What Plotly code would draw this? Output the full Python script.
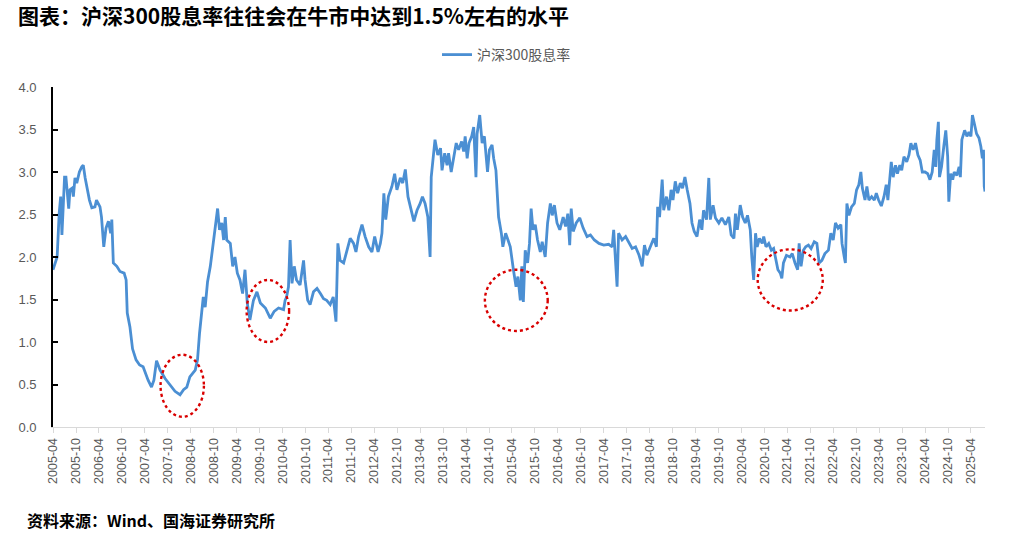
import plotly.graph_objects as go

# ---------------- data ----------------
series_name = "沪深300股息率"

dates = [
    "2005-04-01", "2005-05-04", "2005-05-20", "2005-06-01", "2005-06-11", "2005-06-22",
    "2005-07-02", "2005-07-13", "2005-07-23", "2005-08-04", "2005-08-14", "2005-09-01",
    "2005-09-10", "2005-09-23", "2005-10-07", "2005-10-28", "2005-11-16", "2005-11-28",
    "2005-12-13", "2006-01-01", "2006-01-16", "2006-02-04", "2006-03-01", "2006-03-13",
    "2006-04-10", "2006-04-22", "2006-05-10", "2006-05-28", "2006-06-16", "2006-07-04",
    "2006-07-13", "2006-07-25", "2006-08-22", "2006-09-16", "2006-10-19", "2006-11-04",
    "2006-11-13", "2006-12-04", "2006-12-25", "2007-01-22", "2007-02-19", "2007-03-19",
    "2007-04-28", "2007-05-25", "2007-06-13", "2007-07-04", "2007-08-01", "2007-09-10",
    "2007-10-19", "2007-11-28", "2008-01-07", "2008-02-04", "2008-03-01", "2008-03-25",
    "2008-05-07", "2008-05-25", "2008-06-10", "2008-06-28", "2008-07-10", "2008-07-25",
    "2008-08-13", "2008-09-04", "2008-09-22", "2008-10-13", "2008-11-01", "2008-11-16",
    "2008-12-04", "2008-12-19", "2009-01-01", "2009-01-13", "2009-02-10", "2009-03-01",
    "2009-03-19", "2009-04-07", "2009-04-28", "2009-05-19", "2009-06-07", "2009-06-25",
    "2009-07-16", "2009-08-13", "2009-09-10", "2009-10-07", "2009-11-16", "2009-12-25",
    "2010-01-25", "2010-03-01", "2010-04-10", "2010-04-22", "2010-05-04", "2010-05-19",
    "2010-06-01", "2010-06-16", "2010-07-04", "2010-07-22", "2010-08-19", "2010-09-16",
    "2010-09-28", "2010-10-19", "2010-11-07", "2010-12-04", "2011-01-01", "2011-01-28",
    "2011-02-22", "2011-03-19", "2011-04-16", "2011-05-10", "2011-06-01", "2011-06-16",
    "2011-07-04", "2011-08-01", "2011-08-25", "2011-09-22", "2011-10-19", "2011-11-07",
    "2011-11-28", "2011-12-25", "2012-01-19", "2012-02-16", "2012-03-13", "2012-04-04",
    "2012-05-01", "2012-05-19", "2012-06-01", "2012-06-16", "2012-07-01", "2012-07-22",
    "2012-08-19", "2012-09-10", "2012-09-28", "2012-10-25", "2012-11-13", "2012-12-04",
    "2012-12-25", "2013-01-13", "2013-02-10", "2013-03-07", "2013-04-01", "2013-04-19",
    "2013-05-10", "2013-06-01", "2013-06-19", "2013-06-28", "2013-07-16", "2013-07-28",
    "2013-08-19", "2013-09-10", "2013-09-22", "2013-10-13", "2013-11-01", "2013-11-13",
    "2013-12-04", "2013-12-22", "2014-01-13", "2014-02-01", "2014-02-25", "2014-03-13",
    "2014-03-25", "2014-04-10", "2014-04-25", "2014-05-16", "2014-06-01", "2014-06-19",
    "2014-06-28", "2014-07-19", "2014-08-07", "2014-08-25", "2014-09-19", "2014-10-04",
    "2014-10-25", "2014-11-07", "2014-11-25", "2014-12-16", "2015-01-07", "2015-01-19",
    "2015-02-10", "2015-03-01", "2015-03-19", "2015-04-13", "2015-05-04", "2015-05-19",
    "2015-06-07", "2015-06-19", "2015-07-01", "2015-07-16", "2015-08-04", "2015-08-19",
    "2015-09-01", "2015-09-16", "2015-10-04", "2015-10-22", "2015-11-13", "2015-11-28",
    "2015-12-22", "2016-01-10", "2016-02-01", "2016-02-16", "2016-03-04", "2016-03-25",
    "2016-04-16", "2016-05-13", "2016-06-01", "2016-06-19", "2016-07-04", "2016-07-16",
    "2016-08-01", "2016-08-25", "2016-09-22", "2016-10-19", "2016-11-19", "2016-12-16",
    "2017-01-16", "2017-02-22", "2017-04-01", "2017-05-10", "2017-06-07", "2017-06-19",
    "2017-07-04", "2017-07-16", "2017-07-28", "2017-08-25", "2017-09-22", "2017-10-19",
    "2017-11-13", "2017-12-10", "2018-01-07", "2018-02-01", "2018-02-19", "2018-03-10",
    "2018-04-07", "2018-05-04", "2018-05-25", "2018-06-04", "2018-06-19", "2018-07-10",
    "2018-07-22", "2018-08-13", "2018-09-01", "2018-09-19", "2018-10-04", "2018-10-22",
    "2018-11-10", "2018-12-01", "2018-12-19", "2019-01-07", "2019-01-25", "2019-02-16",
    "2019-03-04", "2019-03-22", "2019-04-13", "2019-05-04", "2019-05-22", "2019-06-04",
    "2019-06-28", "2019-07-16", "2019-07-28", "2019-08-19", "2019-09-07", "2019-10-04",
    "2019-10-28", "2019-11-25", "2019-12-22", "2020-01-10", "2020-02-01", "2020-02-13",
    "2020-02-28", "2020-03-22", "2020-04-10", "2020-05-01", "2020-05-19", "2020-06-10",
    "2020-06-22", "2020-07-07", "2020-07-22", "2020-08-04", "2020-08-22", "2020-09-13",
    "2020-09-25", "2020-10-13", "2020-11-04", "2020-11-25", "2020-12-13", "2021-01-01",
    "2021-01-16", "2021-02-04", "2021-02-16", "2021-03-01", "2021-03-25", "2021-04-22",
    "2021-05-10", "2021-06-01", "2021-06-22", "2021-07-04", "2021-07-19", "2021-08-07",
    "2021-08-25", "2021-09-16", "2021-10-07", "2021-11-01", "2021-11-22", "2021-12-10",
    "2022-01-01", "2022-01-25", "2022-02-22", "2022-03-13", "2022-04-01", "2022-04-19",
    "2022-05-10", "2022-06-01", "2022-06-10", "2022-06-28", "2022-07-07", "2022-07-19",
    "2022-08-04", "2022-08-25", "2022-09-16", "2022-10-04", "2022-10-22", "2022-11-07",
    "2022-11-19", "2022-12-10", "2022-12-25", "2023-01-10", "2023-02-01", "2023-02-22",
    "2023-03-10", "2023-03-28", "2023-04-19", "2023-05-10", "2023-05-28", "2023-06-10",
    "2023-06-25", "2023-07-07", "2023-07-22", "2023-08-10", "2023-08-25", "2023-09-13",
    "2023-09-28", "2023-10-16", "2023-11-07", "2023-11-25", "2023-12-10", "2023-12-28",
    "2024-01-16", "2024-02-04", "2024-02-22", "2024-03-10", "2024-04-01", "2024-04-22",
    "2024-05-10", "2024-05-28", "2024-06-13", "2024-06-25", "2024-07-04", "2024-07-16",
    "2024-07-25", "2024-08-10", "2024-08-28", "2024-09-13", "2024-09-28", "2024-10-07",
    "2024-10-22", "2024-11-07", "2024-11-19", "2024-12-10", "2024-12-28", "2025-01-07",
    "2025-01-19", "2025-02-10", "2025-02-28", "2025-03-16", "2025-04-01", "2025-04-13",
    "2025-04-28", "2025-05-16", "2025-06-04", "2025-06-19", "2025-07-01", "2025-07-10",
    "2025-07-16", "2025-07-22",
]

dividend_yield = [
    1.85, 2.00, 2.51, 2.71, 2.26, 2.67,
    2.94, 2.94, 2.71, 2.57, 2.79, 2.81,
    2.71, 2.93, 2.87, 3.00, 3.06, 3.08,
    2.93, 2.79, 2.67, 2.58, 2.59, 2.67,
    2.59, 2.47, 2.12, 2.34, 2.42, 2.28,
    2.44, 1.93, 1.89, 1.83, 1.81, 1.73,
    1.34, 1.18, 0.92, 0.79, 0.73, 0.71,
    0.55, 0.47, 0.55, 0.78, 0.67, 0.57,
    0.49, 0.42, 0.38, 0.44, 0.47, 0.59,
    0.67, 0.79, 1.10, 1.42, 1.53, 1.41,
    1.71, 1.89, 2.12, 2.36, 2.57, 2.32,
    2.40, 2.20, 2.47, 2.20, 2.16, 1.89,
    2.00, 1.81, 1.73, 1.57, 1.85, 1.46,
    1.26, 1.49, 1.59, 1.46, 1.40, 1.28,
    1.36, 1.40, 1.38, 1.49, 1.53, 1.65,
    2.20, 1.69, 1.89, 1.73, 1.67, 1.96,
    1.73, 1.49, 1.44, 1.59, 1.63, 1.57,
    1.51, 1.49, 1.44, 1.53, 1.24, 2.16,
    1.96, 1.93, 2.08, 2.22, 2.16, 2.06,
    2.24, 2.38, 2.24, 2.12, 2.06, 2.24,
    2.06, 2.16, 2.28, 2.75, 2.44, 2.71,
    2.83, 2.98, 2.79, 2.93, 2.87, 3.03,
    2.71, 2.59, 2.42, 2.55, 2.63, 2.71,
    2.63, 2.47, 2.00, 2.94, 3.22, 3.38,
    3.20, 3.28, 3.02, 3.22, 3.08, 3.22,
    3.00, 3.18, 3.34, 3.26, 3.36, 3.24,
    3.42, 3.16, 3.34, 3.42, 3.53, 2.94,
    3.45, 3.67, 3.34, 3.42, 3.00, 3.26,
    3.32, 3.16, 3.02, 2.47, 2.28, 2.12,
    2.28, 2.20, 2.12, 1.85, 1.65, 1.77,
    1.49, 1.89, 1.47, 2.08, 1.93, 2.16,
    2.57, 2.32, 2.38, 2.20, 2.06, 2.18,
    2.00, 2.40, 2.63, 2.49, 2.61, 2.40,
    2.32, 2.47, 2.36, 2.51, 2.14, 2.57,
    2.30, 2.40, 2.46, 2.34, 2.24, 2.26,
    2.20, 2.16, 2.14, 2.15, 2.12, 2.32,
    2.00, 1.65, 2.28, 2.20, 2.24, 2.16,
    2.10, 2.12, 2.02, 1.89, 2.14, 2.02,
    2.12, 2.22, 2.12, 2.59, 2.47, 2.91,
    2.55, 2.71, 2.55, 2.79, 2.67, 2.89,
    2.75, 2.87, 2.81, 2.94, 2.79, 2.63,
    2.40, 2.30, 2.24, 2.44, 2.32, 2.55,
    2.44, 2.93, 2.44, 2.61, 2.46, 2.40,
    2.46, 2.38, 2.47, 2.26, 2.22, 2.51,
    2.32, 2.61, 2.47, 2.40, 2.49, 2.32,
    2.00, 1.73, 2.28, 2.12, 2.22, 2.16,
    2.24, 2.12, 2.16, 2.08, 2.10, 1.96,
    1.85, 1.81, 1.75, 1.93, 2.02, 2.00,
    2.04, 1.93, 1.85, 2.16, 1.89, 2.08,
    2.12, 2.14, 2.10, 2.18, 2.16, 1.93,
    1.96, 2.04, 2.08, 2.28, 2.20, 2.40,
    2.34, 2.38, 2.16, 2.00, 1.93, 2.63,
    2.49, 2.59, 2.63, 2.79, 2.85, 3.00,
    2.81, 2.67, 2.83, 2.67, 2.71, 2.67,
    2.75, 2.67, 2.60, 2.71, 2.85, 2.67,
    2.91, 3.12, 2.94, 3.08, 2.98, 3.08,
    3.02, 3.18, 3.12, 3.20, 3.34, 3.26,
    3.34, 3.20, 3.14, 3.00, 3.00, 2.98,
    2.91, 3.00, 3.26, 3.06, 3.38, 3.59,
    2.94, 3.06, 3.30, 3.49, 3.18, 2.65,
    2.98, 2.91, 3.00, 2.96, 3.06, 2.94,
    3.38, 3.49, 3.42, 3.47, 3.42, 3.67,
    3.57, 3.45, 3.40, 3.30, 3.16, 3.26,
    2.83, 2.77,
]
assert len(dates) == len(dividend_yield)

tick_labels = [
    "2005-04", "2005-10", "2006-04", "2006-10", "2007-04", "2007-10", "2008-04",
    "2008-10", "2009-04", "2009-10", "2010-04", "2010-10", "2011-04", "2011-10",
    "2012-04", "2012-10", "2013-04", "2013-10", "2014-04", "2014-10", "2015-04",
    "2015-10", "2016-04", "2016-10", "2017-04", "2017-10", "2018-04", "2018-10",
    "2019-04", "2019-10", "2020-04", "2020-10", "2021-04", "2021-10", "2022-04",
    "2022-10", "2023-04", "2023-10", "2024-04", "2024-10", "2025-04",
]
tick_dates = [label + "-01" for label in tick_labels]

# dotted red ellipses marking bull-market lows: (start, end, low, high)
highlight_ellipses = [
    ("2007-08-05", "2008-07-15", 0.12, 0.85),
    ("2009-06-20", "2010-05-24", 1.00, 1.73),
    ("2014-08-29", "2016-01-11", 1.13, 1.85),
    ("2020-08-08", "2022-01-08", 1.37, 2.09),
]

title_text = "图表：沪深300股息率往往会在牛市中达到1.5%左右的水平"
source_text = "资料来源：Wind、国海证券研究所"

# ---------------- figure ----------------
fig = go.Figure()
fig.add_trace(go.Scatter(
    x=dates, y=dividend_yield, mode="lines", name=series_name,
    line=dict(color="#4b8fd3", width=2.8),
))

for x0, x1, y0, y1 in highlight_ellipses:
    fig.add_shape(type="circle", xref="x", yref="y", x0=x0, x1=x1, y0=y0, y1=y1,
                  line=dict(color="#d90000", width=2.4, dash="dot"))

W, H = 1024, 536
fig.update_layout(
    width=W, height=H,
    margin=dict(l=53, r=39, t=87, b=109),
    paper_bgcolor="white", plot_bgcolor="white",
    showlegend=True,
    legend=dict(orientation="h", x=0.412, y=(427 - 55) / 340, xanchor="left", yanchor="middle",
                font=dict(family="Noto Sans CJK SC", size=14, color="#595959"),
                bgcolor="rgba(0,0,0,0)", borderwidth=0),
    title=dict(text="<b>" + title_text + "</b>", xref="container", yref="container",
               x=18 / W, xanchor="left", y=1 - 17 / H, yanchor="middle",
               font=dict(family="Noto Sans CJK SC", size=21, color="#000000")),
    annotations=[dict(text="<b>" + source_text + "</b>", xref="paper", yref="paper",
                      x=-0.030, y=-(520 - 427) / 340, xanchor="left", yanchor="middle",
                      showarrow=False,
                      font=dict(family="Noto Sans CJK SC", size=16, color="#000000"))],
)

fig.update_xaxes(
    type="date", range=[dates[0], dates[-1]],
    tickmode="array", tickvals=tick_dates, ticktext=tick_labels,
    tickangle=-90, ticks="outside", ticklen=5, tickcolor="#d9d9d9",
    showline=True, linecolor="#d9d9d9", linewidth=1,
    showgrid=False, zeroline=False,
    tickfont=dict(family="Liberation Sans", size=12.5, color="#595959"),
)
fig.update_yaxes(
    range=[0, 4], tick0=0, dtick=0.5, tickformat=".1f",
    ticks="inside", ticklen=5, tickcolor="#000000", tickwidth=1.5,
    showline=True, linecolor="#000000", linewidth=1.8,
    showgrid=False, zeroline=False,
    ticklabelstandoff=12,
    tickfont=dict(family="Liberation Sans", size=13, color="#595959"),
)

fig.write_html("out.html")
